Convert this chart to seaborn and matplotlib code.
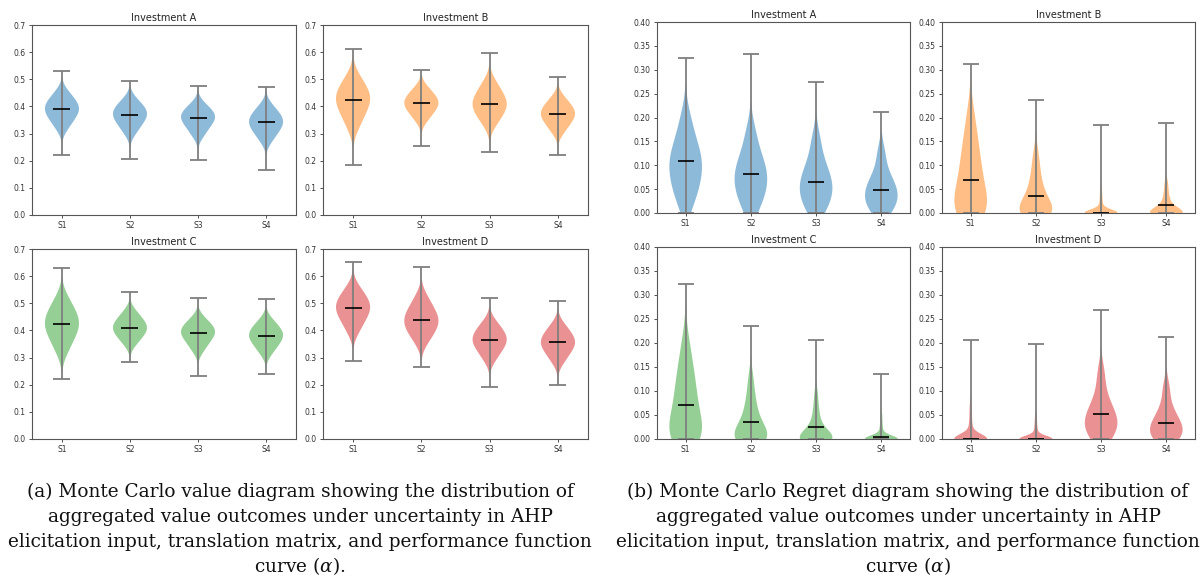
import matplotlib
matplotlib.use("Agg")
import matplotlib.pyplot as plt
import numpy as np
import pandas as pd
import seaborn as sns

# ---------------- data ----------------
strategies = ["S1", "S2", "S3", "S4"]
investments = ["Investment A", "Investment B", "Investment C", "Investment D"]
colors = ["#1f77b4", "#ff7f0e", "#2ca02c", "#d62728"]

# Monte Carlo value: representative quantile samples per strategy (shape of each violin)
value_A = [[0.321, 0.348, 0.364, 0.378, 0.390, 0.401, 0.413, 0.428, 0.452],
           [0.303, 0.329, 0.345, 0.358, 0.370, 0.380, 0.391, 0.404, 0.426],
           [0.293, 0.318, 0.334, 0.347, 0.358, 0.367, 0.377, 0.389, 0.409],
           [0.275, 0.301, 0.317, 0.330, 0.342, 0.353, 0.364, 0.379, 0.402]]
value_B = [[0.325, 0.364, 0.388, 0.407, 0.425, 0.440, 0.456, 0.476, 0.509],
           [0.350, 0.374, 0.389, 0.401, 0.412, 0.422, 0.433, 0.447, 0.469],
           [0.335, 0.364, 0.382, 0.397, 0.410, 0.424, 0.440, 0.459, 0.490],
           [0.307, 0.332, 0.348, 0.361, 0.372, 0.383, 0.394, 0.409, 0.432]]
value_C = [[0.326, 0.365, 0.388, 0.408, 0.425, 0.441, 0.459, 0.481, 0.517],
           [0.351, 0.374, 0.388, 0.400, 0.410, 0.420, 0.432, 0.446, 0.469],
           [0.327, 0.352, 0.368, 0.381, 0.392, 0.401, 0.411, 0.424, 0.444],
           [0.317, 0.342, 0.357, 0.370, 0.381, 0.391, 0.402, 0.416, 0.438]]
value_D = [[0.397, 0.431, 0.451, 0.468, 0.483, 0.496, 0.510, 0.528, 0.556],
           [0.359, 0.389, 0.408, 0.423, 0.437, 0.452, 0.469, 0.489, 0.523],
           [0.294, 0.322, 0.339, 0.353, 0.366, 0.377, 0.390, 0.406, 0.431],
           [0.286, 0.313, 0.330, 0.344, 0.356, 0.367, 0.380, 0.396, 0.421]]
value_min = [[0.220, 0.205, 0.201, 0.165],
             [0.183, 0.255, 0.233, 0.220],
             [0.222, 0.282, 0.232, 0.240],
             [0.289, 0.266, 0.193, 0.198]]
value_max = [[0.532, 0.492, 0.475, 0.470],
             [0.613, 0.533, 0.596, 0.508],
             [0.631, 0.542, 0.519, 0.515],
             [0.653, 0.633, 0.519, 0.509]]
value_mean = [[0.391, 0.369, 0.357, 0.342],
              [0.424, 0.411, 0.410, 0.372],
              [0.425, 0.410, 0.392, 0.381],
              [0.483, 0.437, 0.366, 0.356]]

# Monte Carlo regret: representative samples per strategy (many runs sit at zero regret)
regret_A = [[0.020, 0.045, 0.065, 0.085, 0.100, 0.115, 0.130, 0.155, 0.195],
            [0.010, 0.030, 0.048, 0.063, 0.077, 0.090, 0.105, 0.128, 0.168],
            [0.005, 0.020, 0.035, 0.048, 0.060, 0.072, 0.087, 0.110, 0.152],
            [0.003, 0.013, 0.024, 0.034, 0.044, 0.054, 0.066, 0.085, 0.125]]
regret_B = [[0.0, 0.0, 0.0, 0.005, 0.012, 0.020, 0.030, 0.042, 0.055, 0.068,
             0.082, 0.097, 0.113, 0.130, 0.150, 0.175, 0.210],
            [0.0, 0.0, 0.0, 0.0, 0.0, 0.003, 0.008, 0.014, 0.021, 0.029,
             0.038, 0.049, 0.062, 0.078, 0.098, 0.125],
            [0.0, 0.0, 0.0, 0.0, 0.0, 0.0, 0.0, 0.0, 0.0, 0.0, 0.0, 0.0, 0.0, 0.0, 0.0,
             0.0, 0.0, 0.0, 0.0, 0.0, 0.001, 0.003, 0.006, 0.010, 0.015, 0.022, 0.030,
             0.040, 0.052],
            [0.0, 0.0, 0.0, 0.0, 0.0, 0.0, 0.0, 0.0, 0.0, 0.0, 0.0, 0.0, 0.002, 0.005,
             0.009, 0.013, 0.018, 0.024, 0.031, 0.040, 0.051, 0.065]]
regret_C = [[0.0, 0.0, 0.0, 0.005, 0.012, 0.020, 0.030, 0.042, 0.055, 0.068,
             0.082, 0.097, 0.112, 0.128, 0.147, 0.170, 0.205],
            [0.0, 0.0, 0.0, 0.0, 0.0, 0.003, 0.008, 0.014, 0.021, 0.029,
             0.038, 0.049, 0.062, 0.078, 0.098, 0.128],
            [0.0, 0.0, 0.0, 0.0, 0.0, 0.0, 0.0, 0.0, 0.0, 0.002, 0.006, 0.011, 0.017,
             0.024, 0.032, 0.042, 0.055, 0.072, 0.095],
            [0.0, 0.0, 0.0, 0.0, 0.0, 0.0, 0.0, 0.0, 0.0, 0.0, 0.0, 0.0, 0.0, 0.0, 0.0,
             0.0, 0.0, 0.0, 0.0, 0.0, 0.001, 0.003, 0.006, 0.010, 0.015, 0.022, 0.030,
             0.040, 0.052]]
regret_D = [[0.0, 0.0, 0.0, 0.0, 0.0, 0.0, 0.0, 0.0, 0.0, 0.0, 0.0, 0.0, 0.0, 0.0, 0.0,
             0.0, 0.0, 0.0, 0.0, 0.0, 0.002, 0.005, 0.009, 0.015, 0.022, 0.031, 0.042,
             0.056, 0.072],
            [0.0, 0.0, 0.0, 0.0, 0.0, 0.0, 0.0, 0.0, 0.0, 0.0, 0.0, 0.0, 0.0, 0.0, 0.0,
             0.0, 0.0, 0.0, 0.0, 0.0, 0.001, 0.003, 0.006, 0.010, 0.015, 0.021, 0.028,
             0.037, 0.047],
            [0.003, 0.012, 0.022, 0.032, 0.042, 0.052, 0.065, 0.090, 0.135],
            [0.000, 0.004, 0.010, 0.018, 0.026, 0.035, 0.047, 0.066, 0.105]]
regret_min = [[0.0, 0.0, 0.0, 0.0],
              [0.0, 0.0, 0.0, 0.0],
              [0.0, 0.0, 0.0, 0.0],
              [0.0, 0.0, 0.0, 0.0]]
regret_max = [[0.325, 0.332, 0.275, 0.211],
              [0.312, 0.236, 0.184, 0.188],
              [0.323, 0.235, 0.206, 0.135],
              [0.207, 0.197, 0.268, 0.212]]
regret_mean = [[0.108, 0.081, 0.065, 0.048],
               [0.069, 0.036, 0.001, 0.017],
               [0.070, 0.036, 0.025, 0.005],
               [0.001, 0.001, 0.052, 0.033]]

value_ticks = [0.0, 0.1, 0.2, 0.3, 0.4, 0.5, 0.6, 0.7]
regret_ticks = [0.00, 0.05, 0.10, 0.15, 0.20, 0.25, 0.30, 0.35, 0.40]

caption_a = ["(a) Monte Carlo value diagram showing the distribution of",
             "aggregated value outcomes under uncertainty in AHP",
             "elicitation input, translation matrix, and performance function",
             r"curve ($\alpha$)."]
caption_b = ["(b) Monte Carlo Regret diagram showing the distribution of",
             "aggregated value outcomes under uncertainty in AHP",
             "elicitation input, translation matrix, and performance function",
             r"curve ($\alpha$)"]

# ---------------- styling ----------------
sns.set_style("ticks")
plt.rcParams["font.family"] = ["DejaVu Sans"]
plt.rcParams["mathtext.fontset"] = "dejavuserif"

W, H = 1200, 578
fig = plt.figure(figsize=(W / 100, H / 100), dpi=100)


def box(x0, x1, ytop, ybot):
    return [x0 / W, 1 - ybot / H, (x1 - x0) / W, (ybot - ytop) / H]


left_boxes = [box(32, 296, 25, 215), box(323, 588, 25, 215),
              box(32, 296, 249, 439), box(323, 588, 249, 439)]
right_boxes = [box(657, 910, 22, 213), box(942, 1195, 22, 213),
               box(657, 910, 247, 439), box(942, 1195, 247, 439)]


def draw_panel(boxes, shapes, mins, maxs, means, ticks, fmt, ymax):
    for k in range(4):
        ax = fig.add_axes(boxes[k])
        rows = []
        for j, s in enumerate(strategies):
            for v in shapes[k][j]:
                rows.append((s, v))
        df = pd.DataFrame(rows, columns=["strategy", "value"])
        sns.violinplot(data=df, x="strategy", y="value", order=strategies,
                       color=colors[k], saturation=1, inner=None,
                       width=0.5, density_norm="width", cut=2,
                       linewidth=0, ax=ax)
        for c in ax.collections:
            c.set_alpha(0.5)
            c.set_edgecolor("none")
        pos = np.arange(len(strategies))
        ax.vlines(pos, mins[k], maxs[k], color="#7f7f7f", lw=1.3, zorder=3)
        ax.hlines(mins[k], pos - 0.125, pos + 0.125, color="#7f7f7f", lw=1.3, zorder=3)
        ax.hlines(maxs[k], pos - 0.125, pos + 0.125, color="#7f7f7f", lw=1.3, zorder=3)
        ax.hlines(means[k], pos - 0.125, pos + 0.125, color="black", lw=1.2, zorder=4)
        ax.set_ylim(0, ymax)
        ax.set_xlim(-0.44, 3.44)
        ax.set_yticks(ticks)
        ax.set_yticklabels([fmt.format(t) for t in ticks])
        ax.set_xlabel("")
        ax.set_ylabel("")
        ax.set_title(investments[k], fontsize=7, pad=3, color="#222222")
        ax.tick_params(labelsize=5.5, length=2.5, width=0.6, pad=2,
                       colors="#333333")
        for sp in ax.spines.values():
            sp.set_visible(True)
            sp.set_color("#555555")
            sp.set_linewidth(0.8)


draw_panel(left_boxes, [value_A, value_B, value_C, value_D],
           value_min, value_max, value_mean, value_ticks, "{:.1f}", 0.7)
draw_panel(right_boxes, [regret_A, regret_B, regret_C, regret_D],
           regret_min, regret_max, regret_mean, regret_ticks, "{:.2f}", 0.4)

line_y = [492, 517, 542, 566]
for i in range(4):
    fig.text(300 / W, 1 - line_y[i] / H, caption_a[i], ha="center", va="center",
             fontsize=13.3, family="DejaVu Serif", color="#111111")
    fig.text(908 / W, 1 - line_y[i] / H, caption_b[i], ha="center", va="center",
             fontsize=13.3, family="DejaVu Serif", color="#111111")

fig.savefig("out.png", dpi=100)
